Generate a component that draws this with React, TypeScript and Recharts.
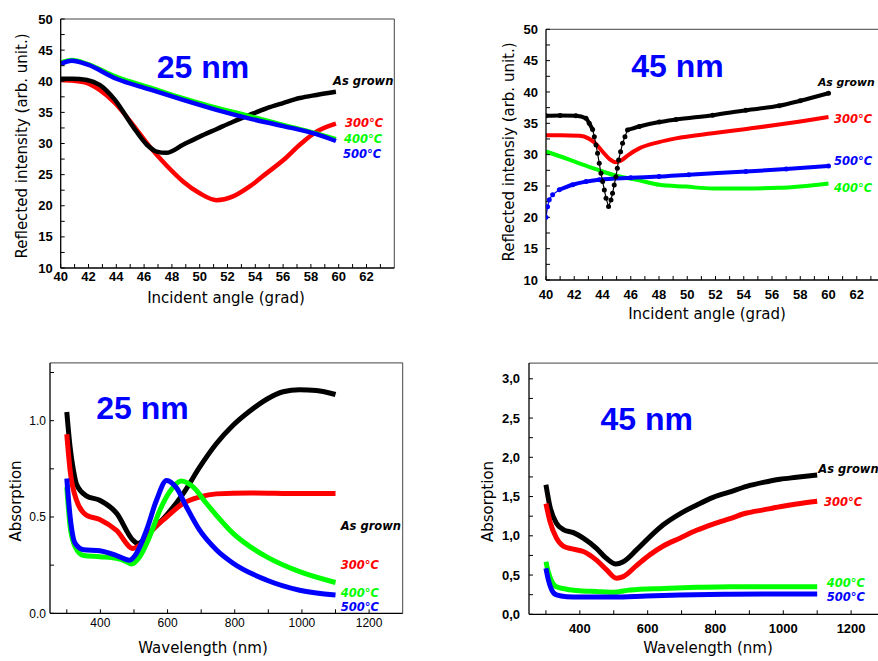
import { LineChart, Line, XAxis, YAxis, ReferenceLine } from 'recharts';
import type { ReactNode } from 'react';

type Pt = [number, number];

// ---- 25 nm, reflected intensity vs incident angle
const asGrown25R: Pt[] = [[40, 40.4], [40.8, 40.4], [41.9, 40.2], [42.8, 39.4], [43.9, 37.0], [45.2, 32.7], [46.2, 29.8], [46.9, 28.7], [47.6, 28.5], [48.8, 29.8], [50.0, 31.1], [51.2, 32.3], [52.4, 33.5], [53.6, 34.6], [54.8, 35.65], [56.0, 36.5], [57.2, 37.3], [58.4, 37.8], [59.8, 38.3]];
const t300_25R: Pt[] = [[40, 40.2], [40.8, 40.1], [41.9, 39.7], [42.8, 38.6], [43.9, 36.5], [45.2, 33.0], [46.4, 29.5], [47.6, 26.5], [48.8, 23.9], [50.0, 22.0], [51.2, 20.9], [52.4, 21.5], [53.6, 23.1], [54.8, 25.2], [56.0, 27.3], [57.2, 29.8], [58.4, 31.9], [59.8, 33.2]];
const t400_25R: Pt[] = [[40, 43.0], [40.8, 43.4], [41.9, 42.8], [44.0, 40.7], [46.4, 39.0], [48.8, 37.3], [51.2, 35.75], [53.6, 34.4], [56.0, 33.0], [58.4, 31.6], [59.8, 30.7]];
const t500_25R: Pt[] = [[40, 42.8], [40.8, 43.3], [41.9, 42.7], [44.0, 40.4], [46.4, 38.7], [48.8, 37.0], [51.2, 35.4], [53.6, 34.0], [56.0, 32.8], [58.4, 31.5], [59.8, 30.4]];

// ---- 45 nm, reflected intensity vs incident angle
const asGrown45R: Pt[] = [[40, 36.2], [41, 36.25], [42.12, 36.2], [42.83, 35.8], [43.06, 35.0], [43.3, 34.0], [43.42, 32.87], [43.54, 31.55], [43.65, 30.22], [43.77, 28.63], [43.89, 27.03], [44.01, 25.7], [44.13, 24.37], [44.25, 23.05], [44.43, 21.71], [44.6, 22.78], [44.71, 23.84], [44.83, 25.17], [44.95, 26.49], [45.05, 27.83], [45.14, 29.16], [45.28, 30.48], [45.42, 31.82], [45.59, 32.87], [45.77, 33.94], [46.6, 34.5], [48.02, 35.2], [49.2, 35.6], [51.8, 36.3], [54.15, 37.1], [56.5, 37.8], [58, 38.6], [60, 39.8]];
const t300_45R: Pt[] = [[40, 33.1], [41, 33.1], [42.4, 33.0], [43.0, 32.6], [43.5, 31.8], [44.0, 30.5], [44.5, 29.3], [44.95, 28.8], [45.4, 29.2], [45.8, 29.9], [46.6, 31.0], [48, 32.0], [49.2, 32.6], [51.8, 33.4], [54.2, 34.1], [56.5, 34.8], [58, 35.3], [60, 36.0]];
const t400_45R: Pt[] = [[40, 30.5], [41.65, 29.2], [42.36, 28.6], [43.65, 27.6], [44.71, 26.8], [46.6, 25.9], [48.02, 25.2], [49.9, 24.9], [51.8, 24.6], [54, 24.6], [56.5, 24.7], [60, 25.4]];
const t500_45R: Pt[] = [[40.0, 20.0], [40.11, 21.7], [40.23, 22.8], [40.47, 23.6], [40.94, 24.4], [41.88, 25.2], [42.83, 25.7], [43.77, 26.0], [46, 26.3], [48, 26.5], [50.1, 26.8], [54.15, 27.3], [57, 27.7], [60, 28.2]];

// ---- 25 nm, absorption vs wavelength
const asGrown25A: Pt[] = [[300, 1.045], [310, 0.86], [320, 0.74], [329, 0.67], [358, 0.61], [398, 0.587], [448, 0.52], [497, 0.38], [512, 0.363], [547, 0.42], [597, 0.51], [646, 0.62], [696, 0.76], [745, 0.88], [795, 0.976], [845, 1.05], [894, 1.11], [944, 1.15], [993, 1.16], [1043, 1.157], [1100, 1.136]];
const t300_25A: Pt[] = [[300, 0.93], [310, 0.74], [329, 0.587], [358, 0.51], [398, 0.487], [448, 0.43], [497, 0.337], [517, 0.354], [547, 0.42], [597, 0.5], [646, 0.57], [696, 0.604], [745, 0.62], [845, 0.625], [993, 0.622], [1100, 0.622]];
const t400_25A: Pt[] = [[300, 0.656], [310, 0.45], [325, 0.345], [350, 0.3], [398, 0.294], [448, 0.285], [478, 0.268], [492, 0.256], [517, 0.294], [547, 0.4], [577, 0.535], [606, 0.63], [641, 0.687], [676, 0.656], [716, 0.57], [795, 0.415], [894, 0.294], [993, 0.216], [1100, 0.16]];
const t500_25A: Pt[] = [[300, 0.7], [310, 0.5], [325, 0.363], [350, 0.33], [398, 0.325], [448, 0.3], [487, 0.276], [507, 0.31], [537, 0.43], [567, 0.587], [597, 0.69], [627, 0.65], [656, 0.553], [696, 0.43], [745, 0.33], [795, 0.26], [894, 0.173], [993, 0.12], [1100, 0.095]];

// ---- 45 nm, absorption vs wavelength
const asGrown45A: Pt[] = [[300, 1.65], [312, 1.37], [331, 1.16], [351, 1.08], [381, 1.04], [410, 0.97], [449, 0.84], [479, 0.71], [506, 0.64], [528, 0.67], [567, 0.82], [607, 0.99], [646, 1.14], [695, 1.28], [744, 1.39], [793, 1.49], [843, 1.56], [892, 1.63], [941, 1.68], [990, 1.72], [1039, 1.745], [1100, 1.775]];
const t300_45A: Pt[] = [[300, 1.41], [312, 1.18], [331, 0.97], [351, 0.87], [381, 0.83], [410, 0.8], [449, 0.69], [479, 0.565], [508, 0.46], [528, 0.48], [567, 0.62], [607, 0.76], [646, 0.87], [695, 0.97], [744, 1.07], [793, 1.15], [843, 1.22], [892, 1.29], [941, 1.33], [990, 1.37], [1039, 1.405], [1100, 1.44]];
const t400_45A: Pt[] = [[300, 0.67], [307, 0.54], [317, 0.42], [331, 0.35], [361, 0.32], [400, 0.3], [449, 0.29], [499, 0.28], [548, 0.31], [646, 0.33], [744, 0.344], [843, 0.352], [1100, 0.352]];
const t500_45A: Pt[] = [[300, 0.586], [307, 0.44], [317, 0.31], [331, 0.246], [361, 0.225], [400, 0.22], [499, 0.22], [597, 0.234], [695, 0.246], [843, 0.255], [990, 0.26], [1100, 0.26]];

// ticks
const angleTicks = [40, 41, 42, 43, 44, 45, 46, 47, 48, 49, 50, 51, 52, 53, 54, 55, 56, 57, 58, 59, 60, 61, 62, 63];
const reflTicks = [10, 12.5, 15, 17.5, 20, 22.5, 25, 27.5, 30, 32.5, 35, 37.5, 40, 42.5, 45, 47.5, 50];
const waveTicks = [300, 400, 500, 600, 700, 800, 900, 1000, 1100, 1200];
const abs25Ticks = [0, 0.25, 0.5, 0.75, 1.0, 1.25];
const abs45Ticks = [0, 0.25, 0.5, 0.75, 1, 1.25, 1.5, 1.75, 2, 2.25, 2.5, 2.75, 3];

const tempLabels = ['As grown', '300°C', '400°C', '500°C'];
const BLACK = '#000000';
const RED = '#ff0000';
const GREEN = '#00ff00';
const BLUE = '#0000ff';

const rows = (pts: Pt[]) => pts.map(([x, y]) => ({ x, y }));

const TICK_FONT = "'Liberation Sans', Arial, sans-serif";
const TITLE_FONT = "'DejaVu Sans', sans-serif";

interface PanelProps {
  left: number;
  top: number;
  width: number;
  height: number;
  margin: { top: number; right: number; left: number; bottom: number };
  yWidth: number;
  xHeight: number;
  xDomain: [number, number];
  yDomain: [number, number];
  xTicks: number[];
  yTicks: number[];
  xFmt: (v: number) => string;
  yFmt: (v: number) => string;
  xMargin: number;
  yMargin: number;
  tickSize: number;
  tickWeight: string;
  children: ReactNode;
}

const Panel = (p: PanelProps) => (
  <div style={{ position: 'absolute', left: p.left, top: p.top }}>
    <LineChart width={p.width} height={p.height} margin={p.margin}>
      <XAxis
        type="number"
        dataKey="x"
        domain={p.xDomain}
        ticks={p.xTicks}
        interval={0}
        allowDataOverflow
        height={p.xHeight}
        tickSize={-4}
        tickMargin={p.xMargin}
        tickFormatter={p.xFmt}
        axisLine={{ stroke: '#000', strokeWidth: 1.3 }}
        tickLine={{ stroke: '#000' }}
        tick={{ fill: '#000', fontSize: p.tickSize, fontFamily: TICK_FONT, fontWeight: p.tickWeight }}
      />
      <YAxis
        type="number"
        domain={p.yDomain}
        ticks={p.yTicks}
        interval={0}
        allowDataOverflow
        width={p.yWidth}
        tickSize={-4}
        tickMargin={p.yMargin}
        tickFormatter={p.yFmt}
        axisLine={{ stroke: '#000', strokeWidth: 1.3 }}
        tickLine={{ stroke: '#000' }}
        tick={{ fill: '#000', fontSize: p.tickSize, fontFamily: TICK_FONT, fontWeight: p.tickWeight }}
      />
      <ReferenceLine y={p.yDomain[1]} stroke="#444" strokeWidth={1} />
      <ReferenceLine x={p.xDomain[1]} stroke="#444" strokeWidth={1} />
      {p.children}
    </LineChart>
  </div>
);

const curve = (pts: Pt[], color: string, width: number) => (
  <Line
    data={rows(pts)}
    dataKey="y"
    type="monotone"
    stroke={color}
    strokeWidth={width}
    dot={false}
    activeDot={false}
    isAnimationActive={false}
  />
);

// scatter-with-line look: thin connecting line plus dots, thick where points are dense
const dottedCurve = (pts: Pt[], color: string, width: number, thinFrom: number, thinTo: number) => {
  const thick = pts.map(([x, y]) => ({ x, y: x > thinFrom && x < thinTo ? null : y }));
  return [
    <Line
      key="thin"
      data={rows(pts)}
      dataKey="y"
      type="linear"
      stroke={color}
      strokeWidth={1.2}
      dot={{ r: 2.5, fill: color, stroke: 'none' }}
      activeDot={false}
      isAnimationActive={false}
    />,
    <Line
      key="thick"
      data={thick}
      dataKey="y"
      type="monotone"
      stroke={color}
      strokeWidth={width}
      connectNulls={false}
      dot={false}
      activeDot={false}
      isAnimationActive={false}
    />,
  ];
};

const intFmt = (v: number) => (v % 2 === 0 ? String(v) : '');
const reflFmt = (v: number) => (v % 5 === 0 ? String(v) : '');
const waveFmt = (v: number) => (v % 200 === 0 ? String(v) : '');
const abs25Fmt = (v: number) => (Math.round(v * 100) % 50 === 0 ? v.toFixed(1) : '');
const abs45Fmt = (v: number) => (Math.round(v * 100) % 50 === 0 ? v.toFixed(1).replace('.', ',') : '');

const seriesStyle = { fontFamily: TITLE_FONT, fontStyle: 'italic', fontWeight: 'bold', fontSize: 11.5 } as const;
const bigStyle = { fontFamily: "'Liberation Sans', Arial, sans-serif", fontWeight: 'bold', fontSize: 32, fill: BLUE } as const;
const titleStyle = { fontFamily: TITLE_FONT, fontSize: 15, fill: '#000' } as const;

const YTitle = ({ x, y, text }: { x: number; y: number; text: string }) => (
  <text transform={`translate(${x},${y}) rotate(-90)`} textAnchor="middle" dominantBaseline="central" style={titleStyle}>
    {text}
  </text>
);

export default function App() {
  return (
    <div style={{ position: 'absolute', left: 0, top: 0, width: 878, height: 661, overflow: 'hidden', background: '#fff' }}>
      <Panel
        left={0} top={0} width={400} height={300}
        margin={{ top: 19, right: 5.7, left: 0, bottom: 0 }}
        yWidth={60.7} xHeight={32}
        xDomain={[40, 64]} yDomain={[10, 50]}
        xTicks={angleTicks} yTicks={reflTicks}
        xFmt={intFmt} yFmt={reflFmt}
        xMargin={8} yMargin={12} tickSize={13} tickWeight="bold"
      >
        {curve(t300_25R, RED, 4.5)}
        {curve(asGrown25R, BLACK, 4.5)}
        {curve(t400_25R, GREEN, 4.5)}
        {curve(t500_25R, BLUE, 4.5)}
      </Panel>

      <Panel
        left={480} top={0} width={415} height={310}
        margin={{ top: 29.3, right: 10, left: 0, bottom: 0 }}
        yWidth={66} xHeight={30}
        xDomain={[40, 64]} yDomain={[10, 50]}
        xTicks={angleTicks} yTicks={reflTicks}
        xFmt={intFmt} yFmt={reflFmt}
        xMargin={14} yMargin={12} tickSize={13} tickWeight="bold"
      >
        {curve(t400_45R, GREEN, 4)}
        {dottedCurve(t500_45R, BLUE, 4, 39, 40.5)}
        {curve(t300_45R, RED, 4)}
        {dottedCurve(asGrown45R, BLACK, 4, 43.35, 45.7)}
      </Panel>

      <Panel
        left={0} top={360} width={410} height={290}
        margin={{ top: 2.9, right: 7.3, left: 0, bottom: 0 }}
        yWidth={50} xHeight={36.7}
        xDomain={[250, 1300]} yDomain={[0, 1.3]}
        xTicks={waveTicks} yTicks={abs25Ticks}
        xFmt={waveFmt} yFmt={abs25Fmt}
        xMargin={9} yMargin={8} tickSize={12} tickWeight="normal"
      >
        {curve(asGrown25A, BLACK, 5)}
        {curve(t300_25A, RED, 5)}
        {curve(t400_25A, GREEN, 5)}
        {curve(t500_25A, BLUE, 5)}
      </Panel>

      <Panel
        left={470} top={360} width={425} height={290}
        margin={{ top: 3.1, right: 10, left: 0, bottom: 0 }}
        yWidth={59} xHeight={35.7}
        xDomain={[250, 1300]} yDomain={[0, 3.2]}
        xTicks={waveTicks} yTicks={abs45Ticks}
        xFmt={waveFmt} yFmt={abs45Fmt}
        xMargin={13} yMargin={13} tickSize={13} tickWeight="bold"
      >
        {curve(asGrown45A, BLACK, 5)}
        {curve(t300_45A, RED, 5)}
        {curve(t400_45A, GREEN, 5)}
        {curve(t500_45A, BLUE, 5)}
      </Panel>

      <svg width={878} height={661} style={{ position: 'absolute', left: 0, top: 0, pointerEvents: 'none' }}>
        {/* top left */}
        <YTitle x={22} y={146} text="Reflected intensity (arb. unit.)" />
        <text x={226} y={303} textAnchor="middle" style={titleStyle}>Incident angle (grad)</text>
        <text x={203} y={78} textAnchor="middle" style={bigStyle}>25 nm</text>
        <text x={333} y={85} style={{ ...seriesStyle, fill: BLACK }}>{tempLabels[0]}</text>
        <text x={345} y={127} style={{ ...seriesStyle, fill: RED }}>{tempLabels[1]}</text>
        <text x={344} y={143} style={{ ...seriesStyle, fill: GREEN }}>{tempLabels[2]}</text>
        <text x={343} y={158} style={{ ...seriesStyle, fill: BLUE }}>{tempLabels[3]}</text>

        {/* top right */}
        <YTitle x={509} y={152} text="Reflected intensiy (arb. unit.)" />
        <text x={707} y={319} textAnchor="middle" style={titleStyle}>Incident angle (grad)</text>
        <text x={677.5} y={77} textAnchor="middle" style={bigStyle}>45 nm</text>
        <text x={818} y={86} style={{ ...seriesStyle, fontSize: 10.8, fill: BLACK }}>{tempLabels[0]}</text>
        <text x={834} y={123} style={{ ...seriesStyle, fill: RED }}>{tempLabels[1]}</text>
        <text x={834} y={165} style={{ ...seriesStyle, fill: BLUE }}>{tempLabels[3]}</text>
        <text x={834} y={192} style={{ ...seriesStyle, fill: GREEN }}>{tempLabels[2]}</text>

        {/* bottom left */}
        <YTitle x={16} y={501} text="Absorption" />
        <text x={203} y={653} textAnchor="middle" style={titleStyle}>Wavelength (nm)</text>
        <text x={142.5} y={418.5} textAnchor="middle" style={bigStyle}>25 nm</text>
        <text x={340.7} y={530} style={{ ...seriesStyle, fill: BLACK }}>{tempLabels[0]}</text>
        <text x={340.7} y={569} style={{ ...seriesStyle, fill: RED }}>{tempLabels[1]}</text>
        <text x={340.7} y={596.7} style={{ ...seriesStyle, fill: GREEN }}>{tempLabels[2]}</text>
        <text x={340.7} y={610.7} style={{ ...seriesStyle, fill: BLUE }}>{tempLabels[3]}</text>

        {/* bottom right */}
        <YTitle x={488} y={501.5} text="Absorption" />
        <text x={708} y={653} textAnchor="middle" style={titleStyle}>Wavelength (nm)</text>
        <text x={646.7} y={430} textAnchor="middle" style={bigStyle}>45 nm</text>
        <text x={818.3} y={473} style={{ ...seriesStyle, fill: BLACK }}>{tempLabels[0]}</text>
        <text x={824} y={506} style={{ ...seriesStyle, fill: RED }}>{tempLabels[1]}</text>
        <text x={826.7} y={586.7} style={{ ...seriesStyle, fill: GREEN }}>{tempLabels[2]}</text>
        <text x={826.7} y={600.7} style={{ ...seriesStyle, fill: BLUE }}>{tempLabels[3]}</text>
      </svg>
    </div>
  );
}
